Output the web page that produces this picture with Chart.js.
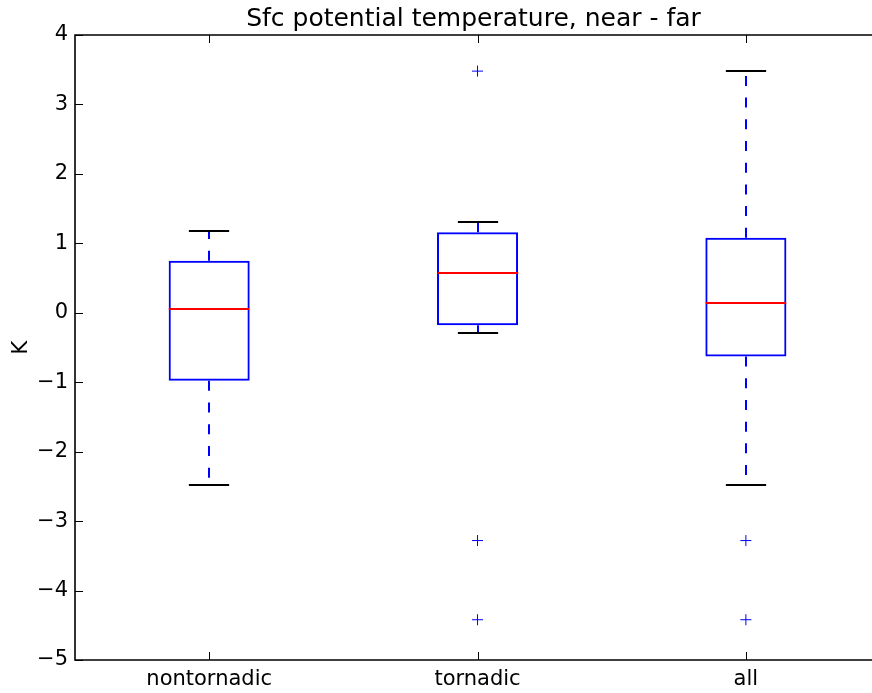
<!DOCTYPE html>
<html>
<head>
<meta charset="utf-8">
<script src="https://cdn.jsdelivr.net/npm/chart.js@4/dist/chart.umd.min.js"></script>
<style>
  html, body { margin: 0; padding: 0; background: #fff; overflow: hidden; }
  canvas { display: block; }
</style>
</head>
<body>
<canvas id="boxChart" width="872" height="693"></canvas>
<script>
// Box statistics per group (K)
const categories = ["nontornadic", "tornadic", "all"];
const q1 = [-0.98, -0.18, -0.63];
const q3 = [0.75, 1.16, 1.08];
const medians = [0.05, 0.58, 0.14];
const whiskerLow = [-2.48, -0.29, -2.48];
const whiskerHigh = [1.18, 1.31, 3.48];
const outlierGroups = ["tornadic", "tornadic", "tornadic", "all", "all"];
const outlierValues = [3.48, -3.28, -4.42, -3.28, -4.42];
const yTicks = [-5, -4, -3, -2, -1, 0, 1, 2, 3, 4];

// boxes sit at positions 1..n; the x range runs a little past the right edge
const xMin = 0.5;
const xMax = 3.47;

const FONT = "'DejaVu Sans', sans-serif";
const pos = (c) => categories.indexOf(c) + 1;

// whiskers, caps, medians, frame and inward ticks
const boxExtras = {
  id: "boxExtras",
  afterDatasetsDraw(chart) {
    const { ctx, chartArea: a, scales: { x, y } } = chart;
    const half = (x.getPixelForValue(2) - x.getPixelForValue(1)) * 0.3 / 2;
    const right = x.getPixelForValue(categories.length + 0.5);
    ctx.save();
    categories.forEach((c, i) => {
      const cx = Math.round(x.getPixelForValue(i + 1));
      // dashed whiskers from the box out to the caps
      ctx.strokeStyle = "#0000ff";
      ctx.lineWidth = 2;
      ctx.setLineDash([10, 11.7]);
      ctx.beginPath();
      ctx.moveTo(cx, y.getPixelForValue(q3[i]));
      ctx.lineTo(cx, y.getPixelForValue(whiskerHigh[i]));
      ctx.moveTo(cx, y.getPixelForValue(q1[i]));
      ctx.lineTo(cx, y.getPixelForValue(whiskerLow[i]));
      ctx.stroke();
      ctx.setLineDash([]);
      // caps
      ctx.strokeStyle = "#000";
      ctx.lineWidth = 2;
      ctx.beginPath();
      [whiskerHigh[i], whiskerLow[i]].forEach((v) => {
        const py = Math.round(y.getPixelForValue(v));
        ctx.moveTo(cx - half / 2, py);
        ctx.lineTo(cx + half / 2, py);
      });
      ctx.stroke();
      // median
      ctx.strokeStyle = "#ff0000";
      ctx.lineWidth = 1.8;
      ctx.beginPath();
      const my = Math.round(y.getPixelForValue(medians[i]));
      ctx.moveTo(cx - half, my);
      ctx.lineTo(cx + half, my);
      ctx.stroke();
    });

    // axes spines: left, top, bottom (right one lies past the canvas)
    ctx.strokeStyle = "#000";
    ctx.lineWidth = 1.6;
    ctx.beginPath();
    ctx.moveTo(right, a.top);
    ctx.lineTo(a.left, a.top);
    ctx.lineTo(a.left, a.bottom);
    ctx.lineTo(right, a.bottom);
    ctx.stroke();

    // inward ticks on all four sides
    ctx.lineWidth = 1;
    ctx.beginPath();
    yTicks.forEach((v) => {
      const py = Math.round(y.getPixelForValue(v)) + 0.5;
      ctx.moveTo(a.left, py);
      ctx.lineTo(a.left + 8, py);
      ctx.moveTo(right, py);
      ctx.lineTo(right - 8, py);
    });
    categories.forEach((c, i) => {
      const px = Math.round(x.getPixelForValue(i + 1)) + 0.5;
      ctx.moveTo(px, a.bottom);
      ctx.lineTo(px, a.bottom - 8);
      ctx.moveTo(px, a.top);
      ctx.lineTo(px, a.top + 8);
    });
    ctx.stroke();
    ctx.restore();
  }
};

new Chart(document.getElementById("boxChart"), {
  data: {
    datasets: [
      {
        type: "bar",
        data: categories.map((c, i) => ({ x: i + 1, y: [q1[i], q3[i]] })),
        backgroundColor: "rgba(0,0,0,0)",
        borderColor: "#0000ff",
        borderWidth: 2,
        borderSkipped: false,
        categoryPercentage: 1,
        barPercentage: 0.302
      },
      {
        type: "line",
        data: outlierValues.map((v, i) => ({ x: pos(outlierGroups[i]), y: v })),
        showLine: false,
        pointStyle: "cross",
        pointRadius: 5.5,
        pointBorderWidth: 1,
        borderColor: "#0000ff",
        backgroundColor: "#0000ff"
      }
    ]
  },
  options: {
    responsive: false,
    animation: false,
    layout: { padding: 0, autoPadding: false },
    plugins: {
      legend: { display: false },
      tooltip: { enabled: false },
      title: {
        display: true,
        text: "Sfc potential temperature, near - far",
        fullSize: false,
        color: "#000",
        font: { family: FONT, size: 25, weight: "normal", lineHeight: 1.2 },
        padding: { top: 4, bottom: 1 }
      }
    },
    scales: {
      x: {
        type: "linear",
        offset: false,
        min: xMin,
        max: xMax,
        afterBuildTicks(scale) { scale.ticks = categories.map((c, i) => ({ value: i + 1 })); },
        grid: { display: false, drawTicks: false, offset: false },
        border: { display: false },
        ticks: {
          color: "#000",
          padding: 7,
          font: { family: FONT, size: 21 },
          maxRotation: 0,
          callback: (v) => categories[v - 1] ?? ""
        },
        afterFit(scale) { scale.height = 33; }
      },
      y: {
        min: -5,
        max: 4,
        afterBuildTicks(scale) { scale.ticks = yTicks.map((v) => ({ value: v })); },
        grid: { display: false, drawTicks: false },
        border: { display: false },
        ticks: {
          color: "#000",
          padding: 7,
          font: { family: FONT, size: 21 },
          callback: (v) => (v < 0 ? "\u2212" + Math.abs(v) : String(v))
        },
        title: {
          display: true,
          text: "K",
          color: "#000",
          font: { family: FONT, size: 21 },
          padding: { top: 9, bottom: 0 }
        },
        afterFit(scale) { scale.width = 75; }
      }
    }
  },
  plugins: [boxExtras]
});
</script>
</body>
</html>
